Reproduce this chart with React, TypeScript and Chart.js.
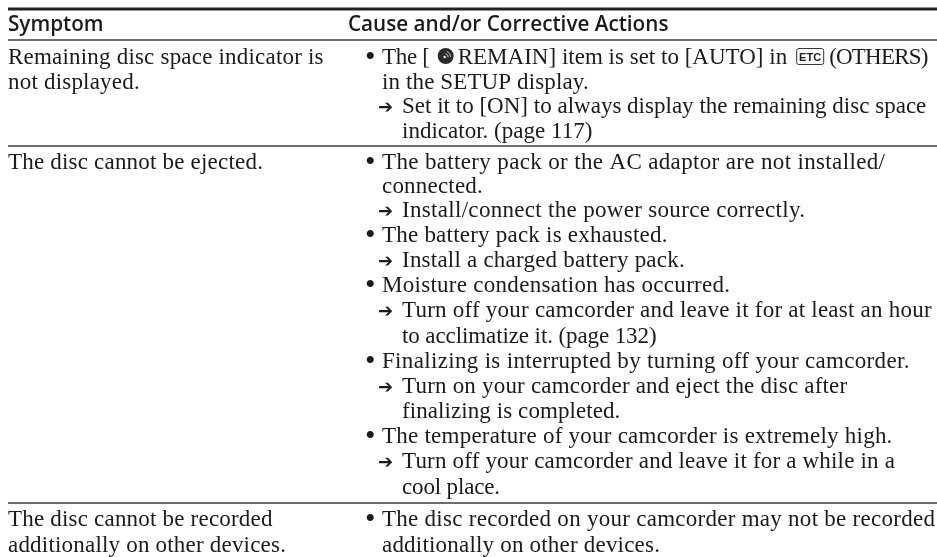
import React, { useEffect, useRef } from "react";
import { Chart, registerables } from "chart.js";

Chart.register(...registerables);

const headers = ["Symptom", "Cause and/or Corrective Actions"];
const symptomRows = [
  ["Remaining disc space indicator is", "not displayed."],
  ["The disc cannot be ejected."],
  ["The disc cannot be recorded", "additionally on other devices."],
];
const causeRows = [
  [
    "\u2022 The [{disc}REMAIN] item is set to [AUTO] in{etc}(OTHERS)",
    "  in the SETUP display.",
    "\u2192 Set it to [ON] to always display the remaining disc space",
    "    indicator. (page 117)",
  ],
  [
    "\u2022 The battery pack or the AC adaptor are not installed/",
    "  connected.",
    "\u2192 Install/connect the power source correctly.",
    "\u2022 The battery pack is exhausted.",
    "\u2192 Install a charged battery pack.",
    "\u2022 Moisture condensation has occurred.",
    "\u2192 Turn off your camcorder and leave it for at least an hour",
    "    to acclimatize it. (page 132)",
    "\u2022 Finalizing is interrupted by turning off your camcorder.",
    "\u2192 Turn on your camcorder and eject the disc after",
    "    finalizing is completed.",
    "\u2022 The temperature of your camcorder is extremely high.",
    "\u2192 Turn off your camcorder and leave it for a while in a",
    "    cool place.",
  ],
  [
    "\u2022 The disc recorded on your camcorder may not be recorded",
    "  additionally on other devices.",
  ],
];
const ruleLevels = [9, 40, 146, 503];
const ruleWeights = [3, 1.5, 1.5, 1.5];
const headerBaseline = 31;
const rowBaselines = [
  [64, 89, 113, 138],
  [169, 193, 217, 242, 267, 292, 317, 343, 368, 393, 418, 443, 468, 494],
  [526, 552],
];
// per-line letter spacing, so the Times-metric face fills the same width as the original
const causeTracking = [
  [0.01, 0.12, 0.01, 0.01],
  [0.35, 0.2, 0.31, 0.22, 0.22, 0.28, 0.23, -0.1, 0.33, 0.2, 0.08, 0.24, 0.18, -0.15],
  [0.27, 0.2],
];

const INK = "#1b1b1b";
const SERIF = "23px 'Liberation Serif'";
const COL = { symptom: 8, head2: 348, bullet: 365, text: 382, arrow: 378, sub: 402 };

function drawInline(ctx: any, xs: any, text: string, startX: number, y: number) {
  let x = xs.getPixelForValue(startX);
  const hasIcons = text.includes("{disc}");
  text.split(/(\{disc\}|\{etc\})/).forEach((part) => {
    if (part === "{disc}") {
      const cx = x + 16, cy = y - 8;
      ctx.beginPath();
      ctx.arc(cx, cy, 8, 0, Math.PI * 2);
      ctx.fillStyle = "#2a2a2a";
      ctx.fill();
      ctx.strokeStyle = "#c4c4c4";
      ctx.lineWidth = 1;
      ctx.beginPath();
      ctx.arc(cx - 1, cy + 1, 3.5, -1.3, 0.1);
      ctx.stroke();
      ctx.beginPath();
      ctx.arc(cx - 1, cy + 1, 6, -1.2, 0);
      ctx.stroke();
      ctx.fillStyle = "#e8e8e8";
      ctx.beginPath();
      ctx.arc(cx - 1, cy + 1, 1.3, 0, Math.PI * 2);
      ctx.fill();
      ctx.fillStyle = INK;
      x += 28;
    } else if (part === "{etc}") {
      const bx = x + 9, bw = 27, bh = 16, by = y - 16;
      ctx.strokeStyle = "#333";
      ctx.lineWidth = 1;
      ctx.beginPath();
      ctx.roundRect(bx + 0.5, by + 0.5, bw, bh, 2);
      ctx.stroke();
      ctx.save();
      ctx.font = "bold 11px 'Liberation Sans'";
      ctx.letterSpacing = "0.1px";
      ctx.textAlign = "center";
      ctx.fillText("ETC", bx + bw / 2 + 0.5, by + 12.5);
      ctx.restore();
      x += 42;
    } else if (part) {
      ctx.save();
      if (hasIcons) {
        ctx.letterSpacing = part.startsWith("(") ? "-0.8px" : part.startsWith("The") ? "-0.3px" : "0.01px";
      }
      ctx.fillText(part, x, y);
      x += ctx.measureText(part).width;
      ctx.restore();
    }
  });
}

const tablePlugin = {
  id: "table",
  afterDatasetsDraw(chart: any) {
    const { ctx, scales } = chart;
    const xs = scales.x, ys = scales.y;
    ctx.save();
    ctx.fillStyle = INK;
    ctx.textBaseline = "alphabetic";
    ctx.font = "600 20.7px 'Open Sans'";
    ctx.letterSpacing = "0px";
    ctx.fillText(headers[0], xs.getPixelForValue(COL.symptom), ys.getPixelForValue(headerBaseline));
    ctx.fillText(headers[1], xs.getPixelForValue(COL.head2), ys.getPixelForValue(headerBaseline));
    symptomRows.forEach((sym, r) => {
      const bases = rowBaselines[r];
      ctx.font = SERIF;
      ctx.letterSpacing = "0.2px";
      sym.forEach((s, i) => ctx.fillText(s, xs.getPixelForValue(COL.symptom), ys.getPixelForValue(bases[i])));
      causeRows[r].forEach((c, i) => {
        const y = ys.getPixelForValue(bases[i]);
        ctx.letterSpacing = `${causeTracking[r][i]}px`;
        if (c.startsWith("\u2022 ")) {
          ctx.save();
          ctx.font = "30px 'Liberation Serif'";
          ctx.letterSpacing = "0px";
          ctx.fillText("\u2022", xs.getPixelForValue(COL.bullet), y + 2);
          ctx.restore();
          drawInline(ctx, xs, c.slice(2), COL.text, y);
        } else if (c.startsWith("\u2192 ")) {
          ctx.save();
          ctx.font = "18px 'DejaVu Sans'";
          ctx.letterSpacing = "0px";
          ctx.fillText("\u2794", xs.getPixelForValue(COL.arrow), y);
          ctx.restore();
          drawInline(ctx, xs, c.slice(2), COL.sub, y);
        } else if (c.startsWith("    ")) {
          drawInline(ctx, xs, c.slice(4), COL.sub, y);
        } else {
          drawInline(ctx, xs, c.slice(2), COL.text, y);
        }
      });
    });
    ctx.restore();
  },
};

export default function App() {
  const ref = useRef<HTMLCanvasElement>(null);
  useEffect(() => {
    const chart = new Chart(ref.current!, {
      type: "scatter",
      data: {
        datasets: ruleLevels.map((y, i) => ({
          data: [{ x: 8, y }, { x: 937, y }],
          showLine: true,
          pointRadius: 0,
          borderColor: i === 0 ? "#222" : "#3c3c3c",
          borderWidth: ruleWeights[i],
        })),
      },
      options: {
        responsive: false,
        animation: false,
        layout: { padding: 0 },
        plugins: { legend: { display: false }, tooltip: { enabled: false } },
        scales: {
          x: { type: "linear", min: 0, max: 937, display: false },
          y: { type: "linear", reverse: true, min: 0, max: 557, display: false },
        },
      },
      plugins: [tablePlugin],
    });
    return () => chart.destroy();
  }, []);
  return <canvas ref={ref} width={937} height={557} style={{ position: "absolute", left: 0, top: 0, display: "block" }} />;
}
